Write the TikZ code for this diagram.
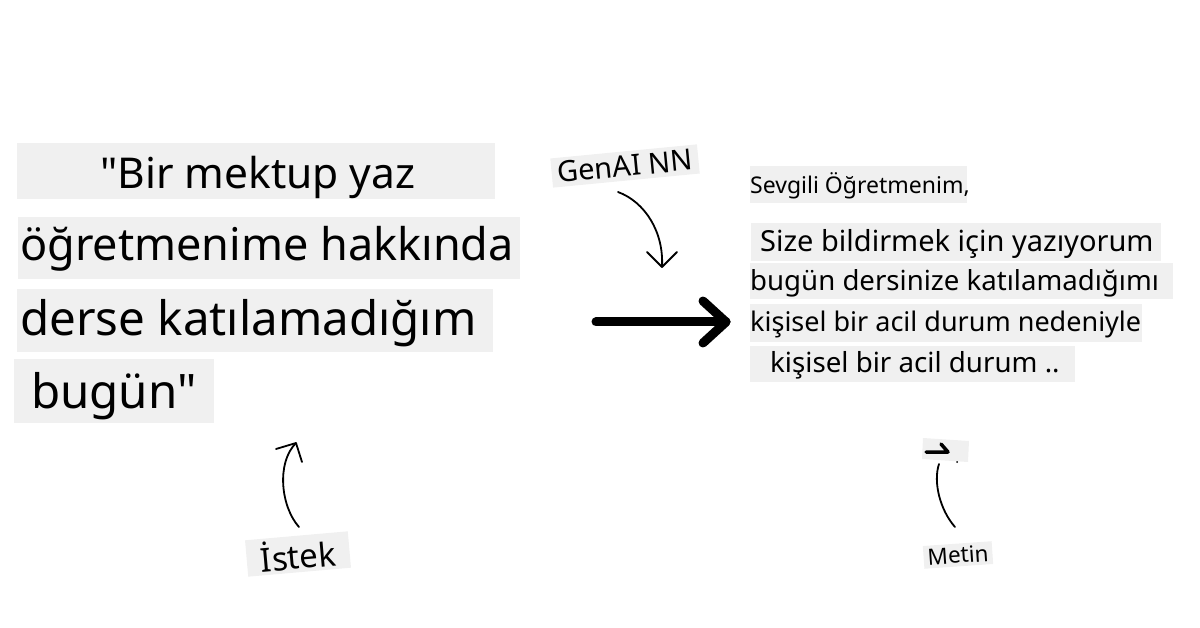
\documentclass[tikz,border=0pt]{standalone}
\usepackage{fontspec}
\setmainfont{Noto Sans}[Ligatures=TeXOff]
\begin{document}
\begin{tikzpicture}[x=1pt,y=-1pt,
  boxfill/.style={fill=black!6},
  txt/.style={inner sep=0pt, anchor=base west},
  tag/.style={fill=black!6, inner xsep=7pt, inner ysep=4pt},
  thin/.style={line width=1.8pt, line cap=round, line join=round},
  thick/.style={line width=9pt, line cap=round, line join=round}]
\useasboundingbox (0,0) rectangle (1200,628);
% left prompt boxes
\fill[boxfill] (17,143) rectangle (495,199);
\fill[boxfill] (18,217) rectangle (520,279);
\fill[boxfill] (17,289) rectangle (493,352);
\fill[boxfill] (14,359) rectangle (214,423);
\node[txt, font=\fontsize{42.5}{42.5}\selectfont] (p1) at (100,189) {"Bir mektup yaz};
\node[txt, font=\fontsize{45}{45}\selectfont] (p2) at (20,261) {öğretmenime hakkında};
\node[txt, font=\fontsize{47.5}{47.5}\selectfont] (p3) at (20,336) {derse katılamadığım};
\node[txt, font=\fontsize{47.5}{47.5}\selectfont] (p4) at (31,409) {bugün"};
% right output boxes
\fill[boxfill] (750,166) rectangle (967,203);
\fill[boxfill] (751,223) rectangle (1161,261);
\fill[boxfill] (750,263) rectangle (1173,299);
\fill[boxfill] (750,304) rectangle (1142,342);
\fill[boxfill] (750,346) rectangle (1075,382);
\node[txt, font=\fontsize{23}{23}\selectfont] (o0) at (750,194) {Sevgili Öğretmenim,};
\node[txt, font=\fontsize{29}{29}\selectfont] (o1) at (760,252) {Size bildirmek için yazıyorum};
\node[txt, font=\fontsize{27.6}{27.6}\selectfont] (o2) at (750,291) {bugün dersinize katılamadığımı};
\node[txt, font=\fontsize{27}{27}\selectfont] (o3) at (750,332) {kişisel bir acil durum nedeniyle};
\node[txt, font=\fontsize{27.7}{27.7}\selectfont] (o4) at (770,373) {kişisel bir acil durum ..};
% labels
\node[tag, rotate=5.5, font=\fontsize{29}{29}\selectfont, inner xsep=6pt] (genai) at (625,166) {GenAI NN};
\node[tag, rotate=5, font=\fontsize{33}{33}\selectfont, inner xsep=14pt, inner ysep=3pt] (istek) at (298,554) {İstek};
\node[tag, rotate=4, font=\fontsize{22.5}{22.5}\selectfont, inner ysep=3pt, inner xsep=4pt] (metin) at (958,555) {Metin};
% GenAI arrow
\coordinate (gs) at (618,192);
\coordinate (ge) at (662,267);
\coordinate (gl) at (647,252);
\coordinate (gr) at (677,252);
\draw[thin] (gs) .. controls (645,202) and (664,232) .. (ge);
\draw[thin] (gl) -- (ge) -- (gr);
% big arrow
\coordinate (bs) at (596,322);
\coordinate (be) at (726,322);
\coordinate (bu) at (703,301);
\coordinate (bd) at (703,343);
\draw[thick] (bs) -- (be);
\draw[thick] (bu) -- (be) -- (bd);
% Istek arrow
\coordinate (is) at (299,527);
\coordinate (ie) at (296,443);
\coordinate (il) at (276,449);
\coordinate (ir) at (302,462);
\draw[thin] (is) .. controls (281,507) and (276,463) .. (ie);
\draw[thin] (il) -- (ie) -- (ir);
% Metin arrow with broken head glyph
\fill[boxfill] (923,438) -- (969,441) -- (968,462) -- (922,459) -- cycle;
\coordinate (ms) at (955,527);
\coordinate (me) at (939,464);
\draw[thin] (ms) .. controls (940,510) and (933,482) .. (me);
\coordinate (h1) at (926,452);
\coordinate (h2) at (948,452);
\coordinate (h3) at (941,444);
\draw[line width=3.5pt, line cap=round, line join=round] (h1) -- (h2) -- (h3);
\fill (957,462) circle (1);
\end{tikzpicture}
\end{document}
